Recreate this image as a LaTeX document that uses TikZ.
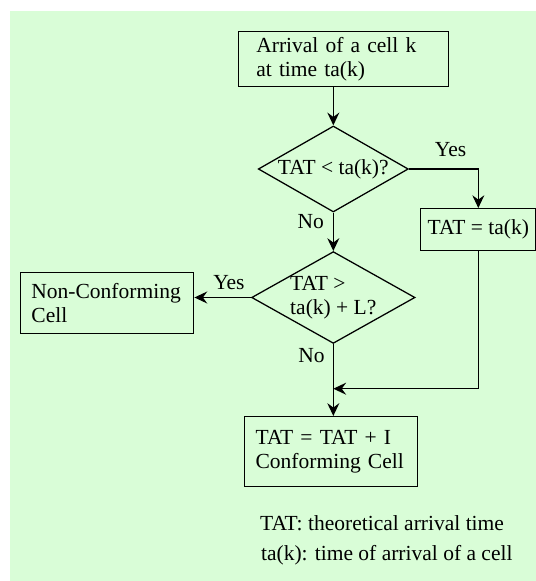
\documentclass[tikz,border=0pt]{standalone}
\usepackage{fontspec}
\setmainfont{Liberation Serif}
\usetikzlibrary{calc, arrows.meta, shapes.geometric}
\definecolor{bggreen}{RGB}{217,253,215}

\begin{document}
\begin{tikzpicture}[>={Stealth[length=3.2mm, width=3mm, inset=1.1mm]}, font=\fontsize{15.3}{17.5}\selectfont]
	\tikzstyle{box} = [draw=black, line width=0.9pt, rectangle, align=left, inner ysep=0pt]
	\tikzstyle{test} = [draw=black, line width=0.9pt, diamond, align=left, inner sep=0pt]
	\tikzstyle{arrow} = [line width=0.9pt, ->]
	\tikzstyle{lbl} = [inner sep=0pt]

	\useasboundingbox (0, 0) rectangle (13.4, -14.525);
	\fill[bggreen] (0.2475, -0.275) rectangle (13.4, -14.525);

	\node[box, text width=4.35cm, inner xsep=0.45cm, minimum height=1.375cm]		at (8.583, -1.48)	(arrive)	{Arrival of a cell k\\at time ta(k)};
	\node[test, shape aspect=1.74, minimum width=3.75cm, minimum height=2.15cm]	at (8.333, -4.225)	(early)		{TAT < ta(k)?};
	\node[box, align=center, minimum width=2.883cm, minimum height=1.05cm]		at (11.958, -5.742)	(reset)		{TAT = ta(k)};
	\node[test, shape aspect=1.78, minimum width=4.075cm, minimum height=2.29cm]	at (8.333, -7.4375)	(late)		{TAT >\\ta(k) + L?};
	\node[box, text width=3.795cm, inner xsep=0.265cm, minimum height=1.525cm]	at (2.683, -7.58)	(noncon)	{Non-Conforming\\Cell};
	\node[box, text width=3.76cm, inner xsep=0.28cm, minimum height=1.75cm]		at (8.27, -11.29)	(conform)	{TAT = TAT + I\\Conforming Cell};

	\coordinate (join) at (8.333, -9.7175);

	\node[lbl, anchor=west]	at (6.495, -13.083)	(leg1)	{TAT: theoretical arrival time};
	\node[lbl, anchor=west]	at (6.52, -13.875)	(leg2)	{ta(k): time of arrival of a cell};

	\draw [arrow] 	(early.north |- arrive.south) -- (early.north);
	\draw [arrow] 	(early.east) -| (reset.north)	node	[lbl, pos=0.3, above=0.3cm]	{Yes};
	\draw [arrow] 	(early.south) -- (late.north)	node	[lbl, pos=0.24, left=0.22cm]	{No};
	\draw [arrow] 	(late.west) -- (late.west -| noncon.east)	node	[lbl, pos=0.39, above=0.18cm]	{Yes};
	\draw [arrow] 	(late.south) -- (late.south |- conform.north)	node	[lbl, pos=0.16, left=0.2cm]	{No};
	\draw [arrow] 	(reset.south) |- (join);
\end{tikzpicture}
\end{document}
